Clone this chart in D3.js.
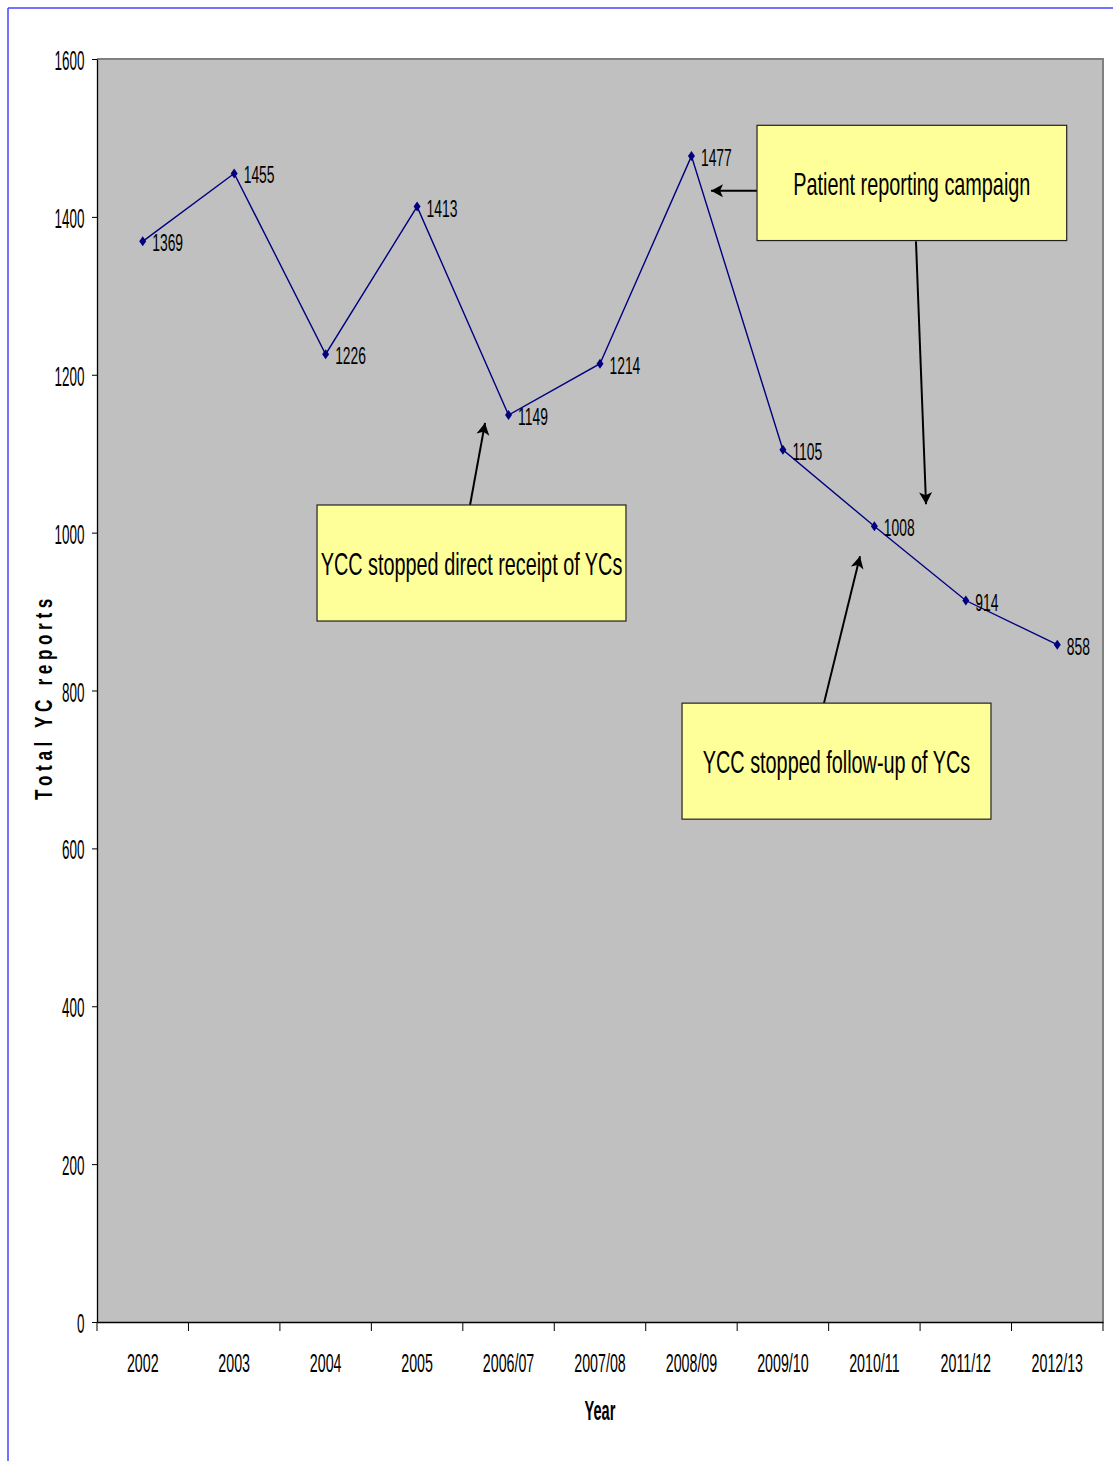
<!DOCTYPE html>
<html>
<head>
<meta charset="UTF-8">
<title>Total YC reports by year</title>
<style>
    body { margin: 0; background: #fff; }
    text { font-family: "Liberation Sans", Arial, sans-serif; fill: #000; }
</style>
</head>
<body>
<script src="https://d3js.org/d3.v7.min.js"></script>
<svg id="chart" width="1113" height="1461"></svg>
<script>
    // data
    const years = ["2002", "2003", "2004", "2005", "2006/07", "2007/08", "2008/09", "2009/10", "2010/11", "2011/12", "2012/13"];
    const reports = [1369, 1455, 1226, 1413, 1149, 1214, 1477, 1105, 1008, 914, 858];
    const yTicks = [0, 200, 400, 600, 800, 1000, 1200, 1400, 1600];

    // annotation boxes, in category-index / value units
    const noteText = ["Patient reporting campaign", "YCC stopped direct receipt of YCs", "YCC stopped follow-up of YCs"];
    const noteX = [[6.717, 10.103], [1.906, 5.284], [5.897, 9.275]];
    const noteY = [[1516, 1370], [1035, 888], [784, 637]];
    // arrows: [fromIndex, fromValue, toIndex, toValue]
    const arrows = [
        [6.717, 1433, 6.214, 1433],
        [8.455, 1369, 8.565, 1036],
        [3.579, 1035, 3.743, 1139],
        [7.449, 784, 7.843, 970]
    ];

    var svg = d3.select("#chart"),
        plotL = 97, plotT = 59, plotR = 1103, plotB = 1322;

    var x = d3.scaleBand().domain(years).range([plotL, plotR]),
        xi = d3.scaleLinear().domain([-0.5, years.length - 0.5]).range([plotL, plotR]),
        y = d3.scaleLinear().domain([0, 1600]).range([plotB, plotT]);

    // text in the picture is tall and narrow, squash it horizontally
    function squash(g, px, py, sx, str) {
        return g.append("text")
            .attr("transform", "translate(" + px + "," + py + ") scale(" + sx + ",1)")
            .text(str);
    }

    // blue frame
    svg.append("line").attr("x1", 8).attr("y1", 8).attr("x2", 1113).attr("y2", 8).attr("stroke", "#4444ff").attr("stroke-width", 1.5);
    svg.append("line").attr("x1", 8).attr("y1", 8).attr("x2", 8).attr("y2", 1461).attr("stroke", "#4444ff").attr("stroke-width", 1.5);

    // plot area
    svg.append("rect").attr("x", plotL).attr("y", plotT).attr("width", plotR - plotL).attr("height", plotB - plotT).attr("fill", "#c0c0c0");
    svg.append("path").attr("d", "M" + plotL + "," + plotT + "H" + plotR + "V" + plotB).attr("fill", "none").attr("stroke", "#808080").attr("stroke-width", 2);

    // y axis
    var gy = svg.append("g").attr("transform", "translate(" + plotL + ",0)")
        .call(d3.axisLeft(y).tickValues(yTicks).tickSize(5).tickSizeOuter(0).tickFormat(d3.format("d")));
    gy.select(".domain").attr("stroke", "#000").attr("stroke-width", 1.3);
    gy.selectAll(".tick line").attr("stroke", "#000");
    gy.selectAll(".tick text").remove();
    gy.selectAll(".tick").each(function (d) {
        squash(d3.select(this), -12.5, 10.5, 0.48, d)
            .attr("text-anchor", "end").style("font-size", "28px");
    });

    // x axis: labels at band centres, ticks at band edges
    var gx = svg.append("g").attr("transform", "translate(0," + plotB + ")")
        .call(d3.axisBottom(x).tickSize(0).tickSizeOuter(0));
    gx.select(".domain").attr("stroke", "#000").attr("stroke-width", 1.3);
    gx.selectAll(".tick text").remove();
    gx.selectAll(".tick").each(function (d) {
        squash(d3.select(this), 0, 49.5, 0.57, d)
            .attr("text-anchor", "middle").style("font-size", "25px");
    });
    gx.selectAll(".edge").data(d3.range(years.length + 1)).enter().append("line")
        .attr("x1", d => xi(d - 0.5)).attr("x2", d => xi(d - 0.5))
        .attr("y1", 0).attr("y2", 9).attr("stroke", "#000");

    // axis titles
    squash(svg, (plotL + plotR) / 2, 1420, 0.54, "Year")
        .attr("text-anchor", "middle").style("font-size", "27px").style("font-weight", "bold");
    svg.append("text")
        .attr("transform", "translate(52,697) rotate(-90) scale(0.82,1.13)")
        .attr("text-anchor", "middle")
        .style("font-size", "21px").style("font-weight", "bold").style("letter-spacing", "5.6px")
        .text("Total YC reports");

    // series
    var line = d3.line().x((d, i) => x(years[i]) + x.bandwidth() / 2).y(d => y(d));
    svg.append("path").datum(reports).attr("d", line)
        .attr("fill", "none").attr("stroke", "#000080").attr("stroke-width", 1.4);

    var pts = svg.selectAll(".pt").data(reports).enter().append("g")
        .attr("transform", (d, i) => "translate(" + (x(years[i]) + x.bandwidth() / 2) + "," + y(d) + ")");
    pts.append("path").attr("d", "M0,-5L3.5,0L0,5L-3.5,0Z").attr("fill", "#000080");
    pts.each(function (d) {
        squash(d3.select(this), 9.5, 10, 0.59, d).style("font-size", "23.5px");
    });

    // arrows
    svg.append("defs").append("marker")
        .attr("id", "head").attr("viewBox", "-13 -7 14 14")
        .attr("refX", 0).attr("refY", 0)
        .attr("markerWidth", 14).attr("markerHeight", 14)
        .attr("markerUnits", "userSpaceOnUse").attr("orient", "auto")
        .append("path").attr("d", "M0,0L-12,-6.5L-9,0L-12,6.5Z").attr("fill", "#000");

    svg.selectAll(".arrow").data(arrows).enter().append("line")
        .attr("x1", d => xi(d[0])).attr("y1", d => y(d[1]))
        .attr("x2", d => xi(d[2])).attr("y2", d => y(d[3]))
        .attr("stroke", "#000").attr("stroke-width", 2)
        .attr("marker-end", "url(#head)");

    // annotation boxes
    noteText.forEach(function (t, i) {
        var x0 = xi(noteX[i][0]), x1 = xi(noteX[i][1]),
            y0 = y(noteY[i][0]), y1 = y(noteY[i][1]);
        svg.append("rect").attr("x", x0).attr("y", y0).attr("width", x1 - x0).attr("height", y1 - y0)
            .attr("fill", "#ffff99").attr("stroke", "#222").attr("stroke-width", 1.2);
        squash(svg, (x0 + x1) / 2, (y0 + y1) / 2 + 12, 0.62, t)
            .attr("text-anchor", "middle").style("font-size", "32px");
    });
</script>
</body>
</html>
